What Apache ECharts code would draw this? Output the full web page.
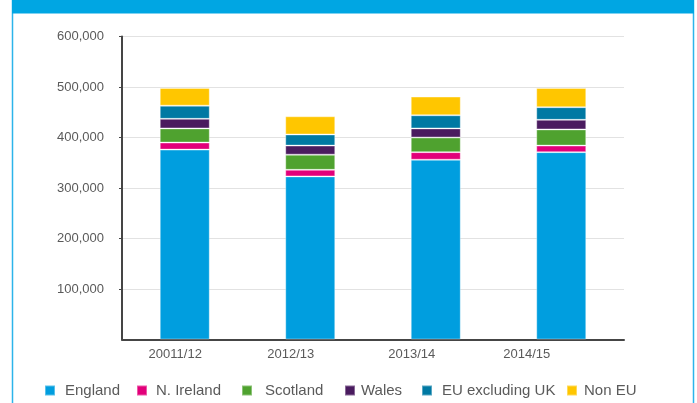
<!DOCTYPE html>
<html>
<head>
<meta charset="utf-8">
<script src="https://cdn.jsdelivr.net/npm/echarts@6/dist/echarts.min.js"></script>
<style>
  html, body { margin: 0; padding: 0; background: #ffffff; }
  #chart { width: 697px; height: 403px; }
</style>
</head>
<body>
<div id="chart"></div>
<script>
// Student numbers by domicile, stacked per academic year
const years = ['20011/12', '2012/13', '2013/14', '2014/15'];
const england   = [376000, 323000, 356000, 371000];
const nIreland  = [14000, 13000, 15000, 13000];
const scotland  = [28000, 30000, 29000, 32000];
const wales     = [19000, 18000, 18000, 19000];
const euExUK    = [26000, 22000, 26000, 25000];
const nonEU     = [35000, 36000, 37000, 38000];
const seriesNames = ['England', 'N. Ireland', 'Scotland', 'Wales', 'EU excluding UK', 'Non EU'];

const seriesData = [england, nIreland, scotland, wales, euExUK, nonEU];
const colors = ['#009EDF', '#E2007A', '#4FA22F', '#4A1B5F', '#0079A3', '#FFC600'];

const FONT = '"Liberation Sans", Arial, sans-serif';
const TEXT = '#5a5a5a';

// Legend entries: square x position and extra space before the text
const legendPos = [
  { left: 44, pad: 5 },
  { left: 136, pad: 4 },
  { left: 241, pad: 8 },
  { left: 344, pad: 1 },
  { left: 421, pad: 5 },
  { left: 566, pad: 2 }
];

// horizontal nudge of each year label (padding on the right, in px)
const labelShift = [19, 39, 48, 69];
const rich = {};
labelShift.forEach((p, i) => {
  rich['l' + i] = { padding: [0, p, 0, 0], fontSize: 13, color: TEXT, fontFamily: FONT };
});

const chart = echarts.init(document.getElementById('chart'), null, { renderer: 'canvas' });

chart.setOption({
  animation: false,
  backgroundColor: '#ffffff',
  color: colors,
  textStyle: { fontFamily: FONT },
  graphic: [
    {
      type: 'rect',
      shape: { x: 12.5, y: 0, width: 681, height: 410 },
      style: { fill: 'none', stroke: '#2CB4EA', lineWidth: 1.5 },
      z: 0
    },
    {
      type: 'rect',
      shape: { x: 12, y: 0, width: 682, height: 13.5 },
      style: { fill: '#00A6E3' },
      z: 1
    }
  ],
  legend: seriesNames.map((name, i) => ({
    data: [name],
    left: legendPos[i].left,
    top: 383,
    padding: 0,
    icon: 'rect',
    itemWidth: 10,
    itemHeight: 10,
    selectedMode: false,
    textStyle: {
      fontSize: 15,
      color: TEXT,
      fontFamily: FONT,
      padding: [0, 0, 0, legendPos[i].pad]
    }
  })),
  grid: {
    left: 122,
    right: 73,
    top: 36.5,
    bottom: 63.5,
    containLabel: false
  },
  xAxis: {
    type: 'category',
    data: years,
    axisLine: { show: true, lineStyle: { color: '#454545', width: 2 } },
    axisTick: { show: false },
    axisLabel: {
      margin: 8,
      fontSize: 13,
      color: TEXT,
      fontFamily: FONT,
      formatter: (value, index) => '{l' + index + '|' + value + '}',
      rich: rich
    },
    splitLine: { show: false }
  },
  yAxis: {
    type: 'value',
    min: 0,
    max: 600000,
    interval: 100000,
    axisLine: { show: true, lineStyle: { color: '#454545', width: 2 } },
    axisTick: { show: true, length: 3, lineStyle: { color: '#454545', width: 1 } },
    axisLabel: {
      showMinLabel: false,
      margin: 18,
      fontSize: 13,
      color: TEXT,
      fontFamily: FONT,
      formatter: v => v.toLocaleString('en-GB')
    },
    splitLine: { show: true, lineStyle: { color: '#e2e2e2', width: 1 } }
  },
  series: seriesNames.map((name, i) => ({
    name: name,
    type: 'bar',
    stack: 'total',
    barWidth: 50,
    data: seriesData[i],
    itemStyle: {
      color: colors[i],
      borderColor: 'rgba(255,255,255,0.35)',
      borderWidth: 1
    },
    emphasis: { disabled: true }
  }))
});
</script>
</body>
</html>
